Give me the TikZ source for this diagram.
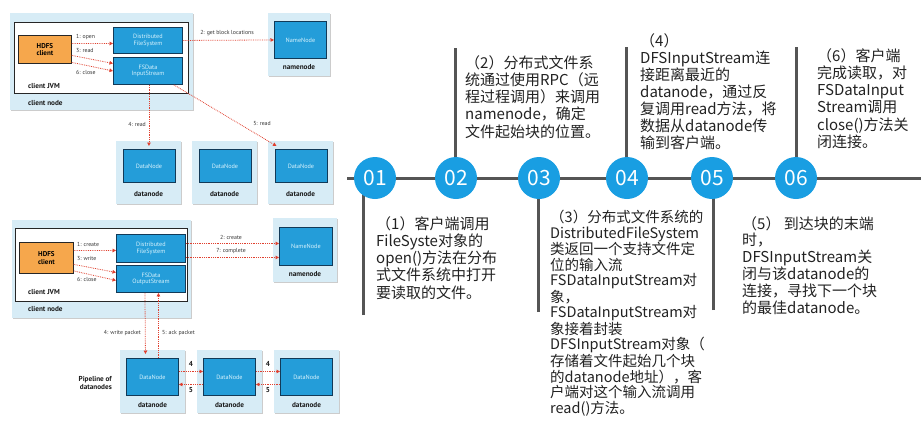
\documentclass[tikz,border=0pt]{standalone}
\usepackage{fontspec}
\setmainfont{Noto Sans CJK SC}
\newfontfamily\dgfont{PT Sans}
\usetikzlibrary{arrows.meta,shadows}
\definecolor{lb}{HTML}{D7ECF6}
\definecolor{bl}{HTML}{249DD9}
\definecolor{navy}{HTML}{123A58}
\definecolor{org}{HTML}{F6A74C}
\definecolor{rd}{HTML}{E0402F}
\definecolor{tlgray}{HTML}{555555}
\definecolor{circblue}{HTML}{199EE2}
\definecolor{txt}{HTML}{222222}
\tikzset{
  outerbox/.style={fill=lb, draw=none, anchor=north west, inner sep=0,
    drop shadow={shadow xshift=1.2pt, shadow yshift=-1.2pt, opacity=0.2, fill=black}},
  jvmbox/.style={fill=white, draw=black!85, line width=0.8pt, anchor=north west, inner sep=0},
  hdfsbox/.style={fill=org, draw=black!85, line width=0.8pt, anchor=north west, inner sep=0,
    align=center, font=\dgfont\bfseries\fontsize{7}{7.5}\selectfont, text=black},
  innerbox/.style={fill=bl, draw=navy, line width=0.9pt, anchor=north west, inner sep=0,
    align=center, font=\dgfont\fontsize{6.2}{6.8}\selectfont, text=cyan!15},
  redarr/.style={draw=rd, densely dotted, line width=0.8pt, -{Triangle[length=3.5pt,width=3.5pt]}},
  arrlbl/.style={font=\dgfont\fontsize{5.8}{6.2}\selectfont, text=black!80, inner sep=0},
  boldlbl/.style={font=\dgfont\bfseries\fontsize{7.2}{7.7}\selectfont, text=black!90, inner sep=0},
  tl/.style={draw=tlgray, line width=3pt},
  circ/.style={circle, fill=circblue, minimum size=42pt, inner sep=0, text=white,
    font=\fontsize{21}{21}\selectfont},
  tltext/.style={anchor=north west, align=left, inner sep=0, text=txt,
    font=\fontsize{15}{17.3}\selectfont},
}
\begin{document}
\begin{tikzpicture}[x=1pt,y=-1pt]
\useasboundingbox (0,0) rectangle (921,421);
% ===== top diagram (read) =====
\node[outerbox, minimum width=183, minimum height=97] (cn1) at (10,13) {};
\node[jvmbox, minimum width=174, minimum height=71] (jvm1) at (14,22) {};
\node[hdfsbox, minimum width=53, minimum height=28] (hc1) at (18,35) {HDFS\\client};
\node[innerbox, minimum width=69, minimum height=26] (dfs1) at (113,27) {Distributed\\FileSystem};
\node[innerbox, minimum width=69, minimum height=27] (fis1) at (113,57) {FSData\\InputStream};
\node[boldlbl, anchor=west] (jvml1) at (28,86) {client JVM};
\node[boldlbl, anchor=west] (cnl1) at (28,103) {client node};
\node[outerbox, minimum width=62, minimum height=63] (nno1) at (268,13) {};
\node[innerbox, minimum width=52, minimum height=37] (nn1) at (274,21) {NameNode};
\node[boldlbl] (nnl1) at (299,67) {namenode};
\foreach \i/\x in {1/116,2/192,3/268}{
  \node[outerbox, minimum width=65, minimum height=63] (dno\i) at (\x,141) {};
  \node[innerbox, minimum width=52, minimum height=33] (dn\i) at (\x+6.5,149) {DataNode};
  \node[boldlbl] (dnl\i) at (\x+32.5,194) {datanode};
}
\draw[redarr] ([yshift=6pt]hc1.east) -- ([yshift=-3pt]dfs1.west);
\draw[redarr] ([yshift=-6pt]hc1.east) -- ([yshift=7.5pt]fis1.west);
\draw[redarr] ([yshift=-13pt]hc1.east) -- (fis1.west);
\node[arrlbl, anchor=west] (l1open) at (76,37) {1: open};
\node[arrlbl, anchor=west] (l3read) at (76,51) {3: read};
\node[arrlbl, anchor=west] (l6close) at (76,72) {6: close};
\draw[redarr] (dfs1.east) -- (nn1.west);
\node[arrlbl] (l2get) at (227,33) {2: get block locations};
\draw[redarr] (fis1.south -| dn1.north) -- ([yshift=3pt]dn1.north);
\node[arrlbl, anchor=east] (l4read) at (146,124) {4: read};
\draw[redarr] ([xshift=-9pt]fis1.south east) -- ([xshift=2pt,yshift=3pt]dn3.north west);
\node[arrlbl] (l5read) at (262,124) {5: read};
% ===== bottom diagram (write) =====
\node[outerbox, minimum width=179, minimum height=98] (cn2) at (12,220) {};
\node[jvmbox, minimum width=172, minimum height=73] (jvm2) at (15,228) {};
\node[hdfsbox, minimum width=54, minimum height=31] (hc2) at (19,242) {HDFS\\client};
\node[innerbox, minimum width=69, minimum height=28] (dfs2) at (116,234) {Distributed\\FileSystem};
\node[innerbox, minimum width=69, minimum height=27] (fos2) at (116,265) {FSData\\OutputStream};
\node[boldlbl, anchor=west] (jvml2) at (28,292) {client JVM};
\node[boldlbl, anchor=west] (cnl2) at (28,309) {client node};
\node[outerbox, minimum width=64, minimum height=64] (nno2) at (273,218) {};
\node[innerbox, minimum width=53, minimum height=38] (nn2) at (279,227) {NameNode};
\node[boldlbl] (nnl2) at (305,274) {namenode};
\foreach \i/\x in {1/120,2/197,3/274}{
  \node[outerbox, minimum width=65, minimum height=63] (pdno\i) at (\x,350) {};
  \node[innerbox, minimum width=52, minimum height=37] (pdn\i) at (\x+6,358) {DataNode};
  \node[boldlbl] (pdnl\i) at (\x+32.5,405) {datanode};
}
\draw[redarr] ([yshift=7.5pt]hc2.east) -- ([yshift=-2pt]dfs2.west);
\draw[redarr] ([yshift=-6.5pt]hc2.east) -- ([yshift=6.5pt]fos2.west);
\draw[redarr] ([yshift=-13pt]hc2.east) -- ([yshift=-1.5pt]fos2.west);
\node[arrlbl, anchor=west] (l1create) at (77,244) {1: create};
\node[arrlbl, anchor=west] (l3write) at (77,258) {3: write};
\node[arrlbl, anchor=west] (l6close2) at (77,279) {6: close};
\draw[redarr] ([yshift=5pt]dfs2.east) -- ([yshift=3pt]nn2.west);
\draw[redarr] ([yshift=-9pt]dfs2.east) -- ([yshift=-11pt]nn2.west);
\node[arrlbl] (l2create) at (231,237) {2: create};
\node[arrlbl] (l7complete) at (231,251) {7: complete};
\draw[redarr] ([xshift=-6pt]fos2.south) -- ([xshift=-7pt,yshift=4pt]pdn1.north);
\draw[redarr] ([xshift=6pt]pdn1.north) -- ([xshift=7.5pt]fos2.south);
\node[arrlbl, anchor=east] (l4wp) at (141,333) {4: write packet};
\node[arrlbl, anchor=west] (l5ack) at (162,333) {5: ack packet};
\node[boldlbl, align=right, anchor=east] (pipe) at (112,383) {Pipeline of\\datanodes};
\draw[redarr] ([yshift=5.5pt]pdn1.east) -- ([yshift=5.5pt]pdn2.west);
\draw[redarr] ([yshift=-7.5pt]pdn2.west) -- ([yshift=-7.5pt]pdn1.east);
\draw[redarr] ([yshift=5.5pt]pdn2.east) -- ([yshift=5.5pt]pdn3.west);
\draw[redarr] ([yshift=-7.5pt]pdn3.west) -- ([yshift=-7.5pt]pdn2.east);
\node[boldlbl] (p4a) at (191,364) {4};
\node[boldlbl] (p5a) at (191,390) {5};
\node[boldlbl] (p4b) at (268,364) {4};
\node[boldlbl] (p5b) at (268,390) {5};
% ===== timeline =====
\coordinate (tlS) at (347,178);
\coordinate (tlE) at (921,178);
\draw[tl] (tlS) -- (tlE);
\coordinate (v1) at (363,315);
\coordinate (v2) at (455,48);
\coordinate (v3) at (538,312);
\coordinate (v4) at (626,47);
\coordinate (v5) at (713,310);
\coordinate (v6) at (796,47);
\foreach \v in {v1,v2,v3,v4,v5,v6} \draw[tl] (\v) -- (\v |- tlS);
\node[circ] (c1) at (375,178) {01};
\node[circ] (c2) at (456,178) {02};
\node[circ] (c3) at (539,178) {03};
\node[circ] (c4) at (627,178) {04};
\node[circ] (c5) at (712,178) {05};
\node[circ] (c6) at (796,178) {06};
\node[tltext] (t1) at (376,216) {（1）客户端调用\\FileSyste对象的\\open()方法在分布\\式文件系统中打开\\要读取的文件。};
\node[tltext] (t2) at (465,55) {（2）分布式文件系\\统通过使用RPC（远\\程过程调用）来调用\\namenode，确定\\文件起始块的位置。};
\node[tltext, font=\fontsize{14.5}{15.5}\selectfont] (t3) at (550,210) {（3）分布式文件系统的\\DistributedFileSystem\\类返回一个支持文件定\\位的输入流\\FSDataInputStream对\\象，\\FSDataInputStream对\\象接着封装\\DFSInputStream对象（\\存储着文件起始几个块\\的datanode地址），客\\户端对这个输入流调用\\read()方法。};
\node[tltext, font=\fontsize{15}{17}\selectfont] (t4) at (640,33) {（4）\\DFSInputStream连\\接距离最近的\\datanode，通过反\\复调用read方法，将\\数据从datanode传\\输到客户端。};
\node[tltext, font=\fontsize{15}{16.8}\selectfont] (t5) at (742,216) {（5） 到达块的末端\\时，\\DFSInputStream关\\闭与该datanode的\\连接，寻找下一个块\\的最佳datanode。};
\node[tltext] (t6) at (817,48) {（6）客户端\\完成读取，对\\FSDataInput\\Stream调用\\close()方法关\\闭连接。};
\end{tikzpicture}
\end{document}
